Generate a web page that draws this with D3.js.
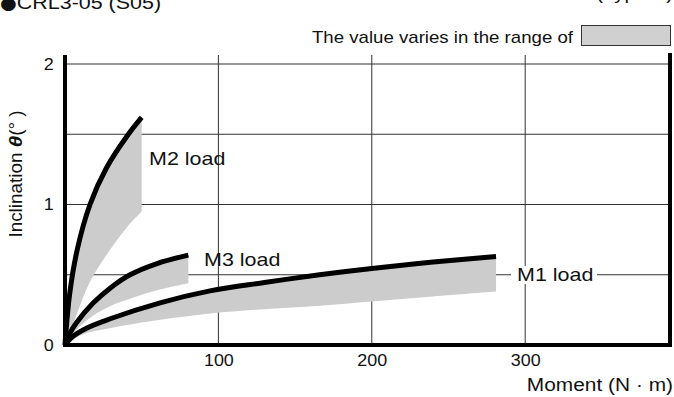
<!DOCTYPE html>
<html><head><meta charset="utf-8">
<script src="https://cdn.jsdelivr.net/npm/d3@7"></script>
<style>
html,body{margin:0;padding:0;background:#fff;}
svg{display:block;font-family:"Liberation Sans",Arial,sans-serif;}
</style></head>
<body><svg id="c" width="674" height="397"></svg>
<script>
// ---- data ----
const xTicks = [100, 200, 300];
const yTicks = [0, 1, 2];
const yGrid = [0.5, 1, 1.5, 2];

const m2Moment = [0, 3, 8, 16.3, 27, 41.3, 50];
const m2Upper  = [0, 0.36, 0.68, 1.0, 1.26, 1.5, 1.62];
const m2Lower  = [0, 0.08, 0.23, 0.45, 0.64, 0.85, 0.95];

const m3Moment = [0, 3, 7.6, 18.5, 30, 42.4, 60, 80.4];
const m3Upper  = [0, 0.08, 0.16, 0.30, 0.41, 0.50, 0.58, 0.64];
const m3Lower  = [0, 0.05, 0.11, 0.21, 0.28, 0.33, 0.39, 0.44];

const m1Moment = [0, 5, 14, 29, 62, 94.5, 130, 166, 200, 240, 281];
const m1Upper  = [0, 0.06, 0.12, 0.185, 0.30, 0.385, 0.445, 0.50, 0.545, 0.59, 0.63];
const m1Lower  = [0, 0.04, 0.085, 0.12, 0.18, 0.225, 0.255, 0.28, 0.31, 0.345, 0.38];

const seriesNames = ["M2 load", "M3 load", "M1 load"];

// ---- drawing ----
const svg = d3.select("#c");
const x = d3.scaleLinear().domain([0, 394.4]).range([65, 670]);
const y = d3.scaleLinear().domain([0, 2]).range([345, 64]);
const STRETCH = 1.13;

// grid
svg.append("g").selectAll("line").data(yGrid).join("line")
  .attr("x1", x(0)).attr("x2", x(394.4))
  .attr("y1", d => y(d)).attr("y2", d => y(d))
  .attr("stroke", "#333").attr("stroke-width", 1);
svg.append("g").selectAll("line").data(xTicks).join("line")
  .attr("x1", d => x(d)).attr("x2", d => x(d))
  .attr("y1", 55).attr("y2", y(0))
  .attr("stroke", "#333").attr("stroke-width", 1);

// bands and curves
const series = [
  {m: m2Moment, u: m2Upper, l: m2Lower},
  {m: m3Moment, u: m3Upper, l: m3Lower},
  {m: m1Moment, u: m1Upper, l: m1Lower}
];
const cv = d3.curveCatmullRom.alpha(0.5);
const area = d3.area().x(d => x(d[0])).y0(d => y(d[2])).y1(d => y(d[1])).curve(cv);
const line = d3.line().x(d => x(d[0])).y(d => y(d[1])).curve(cv);
series.forEach(s => {
  const pts = s.m.map((v, i) => [v, s.u[i], s.l[i]]);
  svg.append("path").attr("d", area(pts)).attr("fill", "#cccccc").attr("stroke", "none");
});
series.forEach(s => {
  const pts = s.m.map((v, i) => [v, s.u[i]]);
  svg.append("path").attr("d", line(pts)).attr("fill", "none")
    .attr("stroke", "#000").attr("stroke-width", 5);
});

// frame axes
svg.append("line").attr("x1", x(0)).attr("x2", x(0)).attr("y1", 55).attr("y2", 347)
  .attr("stroke", "#000").attr("stroke-width", 4);
svg.append("line").attr("x1", 63).attr("x2", 672).attr("y1", y(0)).attr("y2", y(0))
  .attr("stroke", "#000").attr("stroke-width", 4);
svg.append("line").attr("x1", 670).attr("x2", 670).attr("y1", 53).attr("y2", 347)
  .attr("stroke", "#000").attr("stroke-width", 4);

// axis labels via d3 axes
const xAxis = svg.append("g").attr("transform", `translate(0,${y(0)})`)
  .call(d3.axisBottom(x).tickValues(xTicks).tickSize(0).tickPadding(10).tickFormat(d3.format("d")));
const yAxis = svg.append("g").attr("transform", `translate(${x(0)},0)`)
  .call(d3.axisLeft(y).tickValues(yTicks).tickSize(0).tickPadding(10).tickFormat(d3.format("d")));
[xAxis, yAxis].forEach(g => {
  g.select(".domain").remove();
  g.selectAll("text").attr("font-size", 16).attr("fill", "#111")
    .attr("font-family", "'Liberation Sans',Arial,sans-serif")
    .attr("transform", "scale(1.12,1)");
});

function txt(str, tx, ty, size, anchor, st) {
  return svg.append("text").attr("transform", `translate(${tx},${ty}) scale(${st || STRETCH},1)`)
    .attr("font-size", size).attr("text-anchor", anchor || "start").attr("fill", "#111").text(str);
}

// curve labels
txt(seriesNames[0], 149, 165, 19);
txt(seriesNames[1], 204, 266, 19);
svg.append("rect").attr("x", 511).attr("y", 266).attr("width", 86).attr("height", 18).attr("fill", "#fff");
txt(seriesNames[2], 517, 281, 19);

// legend
txt("The value varies in the range of", 573, 43, 17, "end", 1.097);
svg.append("rect").attr("x", 581.5).attr("y", 25.5).attr("width", 89).attr("height", 20)
  .attr("fill", "#d0d0d0").attr("stroke", "#333").attr("stroke-width", 1);

// axis titles
txt("Moment (N · m)", 673, 391, 18.5, "end");
const yt = svg.append("text").attr("transform", `translate(22,174) rotate(-90) scale(1.08,1)`)
  .attr("font-size", 17.5).attr("text-anchor", "middle").attr("fill", "#111");
yt.append("tspan").text("Inclination ");
yt.append("tspan").attr("font-weight", "bold").attr("font-style", "italic").attr("font-size", 19).text("θ");
yt.append("tspan").text("(°  )");

// top (clipped) headings, as in the reference
const tt = svg.append("text").attr("transform", `translate(0,9) scale(${STRETCH},1)`)
  .attr("font-size", 19).attr("fill", "#111");
tt.append("tspan").attr("font-family", "'DejaVu Sans',sans-serif").attr("font-size", 17).text("●");
tt.append("tspan").text("CRL3-05 (S05)");
txt("(Typical)", 673, -1, 18, "end");
</script></body></html>
